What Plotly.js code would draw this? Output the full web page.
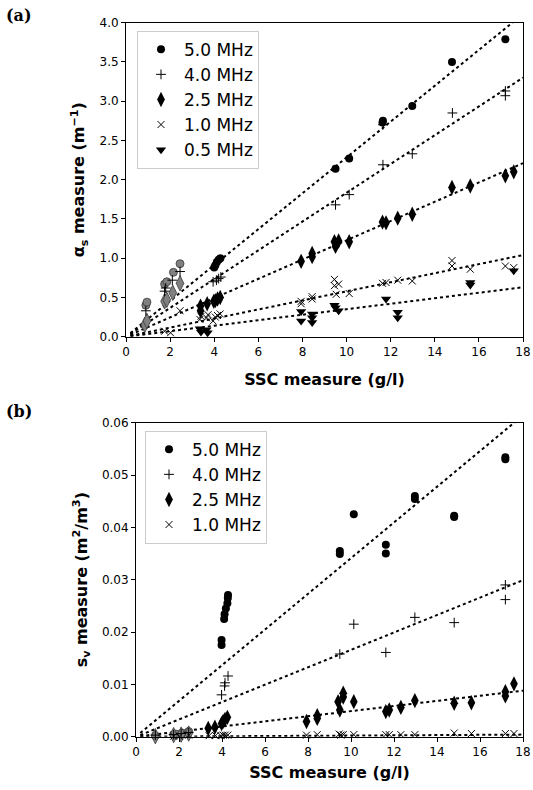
<!DOCTYPE html>
<html>
<head>
<meta charset="utf-8">
<script src="https://cdn.plot.ly/plotly-3.0.1.min.js"></script>
<style>html,body{margin:0;padding:0;background:#fff;}#chart{width:533px;height:790px;}</style>
</head>
<body>
<div id="chart"></div>
<script>
// ---------- Panel (a): attenuation alpha_s ----------
const a_x50 = [4.0, 4.05, 4.12, 4.2, 4.28, 9.5, 10.12, 11.63, 11.65, 12.98, 14.78, 17.2];
const a_y50 = [0.88, 0.91, 0.95, 0.98, 1.0, 2.14, 2.27, 2.73, 2.75, 2.94, 3.50, 3.79];
const a_x40 = [0.9, 1.75, 1.8, 2.1, 2.45, 3.95, 4.1, 4.2, 4.3, 9.5, 10.12, 11.65, 11.65, 12.98, 14.8, 17.2, 17.2];
const a_y40 = [0.33, 0.58, 0.62, 0.72, 0.83, 0.70, 0.72, 0.74, 0.76, 1.68, 1.81, 2.19, 2.70, 2.33, 2.85, 3.07, 3.13];
const a_x25 = [3.38, 3.38, 3.68, 3.98, 4.05, 4.15, 4.27, 7.94, 8.44, 8.44, 9.45, 9.5, 9.64, 10.12, 11.63, 11.79, 12.32, 12.98, 14.78, 15.61, 17.2, 17.58];
const a_y25 = [0.39, 0.33, 0.42, 0.45, 0.46, 0.48, 0.50, 0.96, 1.02, 1.06, 1.21, 1.15, 1.22, 1.21, 1.46, 1.45, 1.51, 1.56, 1.90, 1.92, 2.05, 2.10];
const a_x10 = [1.75, 2.02, 2.45, 3.35, 3.4, 3.65, 3.72, 3.95, 4.05, 4.15, 4.27, 7.94, 7.94, 8.44, 8.44, 9.45, 9.45, 9.53, 9.64, 10.12, 11.63, 11.79, 12.32, 12.98, 14.78, 14.78, 15.61, 17.2, 17.58];
const a_y10 = [0.07, 0.05, 0.33, 0.22, 0.26, 0.24, 0.28, 0.20, 0.25, 0.27, 0.29, 0.45, 0.42, 0.51, 0.48, 0.73, 0.65, 0.54, 0.67, 0.55, 0.68, 0.69, 0.72, 0.71, 0.97, 0.90, 0.86, 0.90, 0.88];
const a_x05 = [3.35, 3.4, 3.65, 3.7, 7.94, 7.94, 8.44, 8.44, 8.44, 9.45, 9.5, 9.64, 11.79, 12.32, 12.32, 15.61, 15.61, 17.58];
const a_y05 = [0.10, 0.06, 0.09, 0.05, 0.32, 0.20, 0.29, 0.24, 0.18, 0.40, 0.37, 0.33, 0.48, 0.31, 0.24, 0.69, 0.66, 0.84];
// grey (low-concentration) points
const a_xg50 = [0.9, 0.95, 1.75, 1.85, 2.15, 2.45];
const a_yg50 = [0.40, 0.44, 0.67, 0.70, 0.82, 0.93];
const a_xg25 = [0.85, 0.95, 1.75, 1.85, 2.12, 2.45];
const a_yg25 = [0.15, 0.20, 0.45, 0.47, 0.56, 0.68];
// fitted dotted lines (end points)
const a_fitX = [0.2, 18];
const a_fit50 = [0.046, 4.11];
const a_fit40 = [0.037, 3.30];
const a_fit25 = [0.025, 2.21];
const a_fit10 = [0.012, 1.04];
const a_fit05 = [0.007, 0.63];

// ---------- Panel (b): backscatter s_v ----------
const b_x50 = [3.98, 3.98, 4.1, 4.12, 4.18, 4.25, 4.27, 4.28, 9.48, 9.48, 10.13, 11.62, 11.62, 12.97, 12.97, 14.8, 14.8, 17.18, 17.18];
const b_y50 = [0.0175, 0.0185, 0.0225, 0.0234, 0.0245, 0.0255, 0.0265, 0.0271, 0.0355, 0.0349, 0.0425, 0.0367, 0.0350, 0.0460, 0.0454, 0.0422, 0.0420, 0.0534, 0.0530];
const b_x40 = [0.9, 1.75, 2.1, 2.45, 3.98, 4.12, 4.14, 4.28, 9.48, 10.13, 11.62, 12.97, 14.8, 17.18, 17.18];
const b_y40 = [0.0003, 0.0004, 0.0006, 0.0008, 0.0080, 0.0097, 0.0103, 0.0116, 0.0158, 0.0215, 0.0161, 0.0228, 0.0218, 0.0290, 0.0262];
const b_x25 = [3.36, 3.67, 3.98, 4.05, 4.14, 4.25, 7.93, 8.43, 8.43, 9.4, 9.48, 9.64, 9.64, 10.13, 11.62, 11.78, 12.32, 12.97, 14.8, 15.6, 17.18, 17.18, 17.58];
const b_y25 = [0.0016, 0.0018, 0.0025, 0.0029, 0.0033, 0.0037, 0.0029, 0.0035, 0.0040, 0.0067, 0.0051, 0.0083, 0.0076, 0.0067, 0.0048, 0.0051, 0.0056, 0.0069, 0.0064, 0.0065, 0.0086, 0.0078, 0.0101];
const b_x10 = [1.75, 2.02, 2.45, 3.4, 3.7, 3.95, 4.05, 4.15, 4.27, 7.93, 8.43, 9.45, 9.53, 9.64, 10.13, 11.62, 11.78, 12.32, 12.97, 14.8, 15.6, 17.18, 17.58];
const b_y10 = [0.0001, 0.0001, 0.0003, 0.0002, 0.0002, 0.0002, 0.0003, 0.0003, 0.0003, 0.0003, 0.0004, 0.0005, 0.0003, 0.0004, 0.0004, 0.0004, 0.0004, 0.0004, 0.0004, 0.0007, 0.0006, 0.0006, 0.0006];
const b_xg50 = [0.9, 1.75, 1.85, 2.15, 2.45];
const b_yg50 = [0.0002, 0.0004, 0.0005, 0.0007, 0.0010];
const b_xg25 = [0.9, 1.75, 2.1, 2.45];
const b_yg25 = [0.0001, 0.0003, 0.0004, 0.0006];
const b_fitX = [0.2, 18];
const b_fit50 = [0.0007, 0.0614];
const b_fit40 = [0.0003, 0.0299];
const b_fit25 = [0.0001, 0.0088];
const b_fit10 = [0.0, 0.0004];

const labels = ['5.0 MHz', '4.0 MHz', '2.5 MHz', '1.0 MHz', '0.5 MHz'];

const sym = {
  c: {symbol: 'circle', size: 8, color: '#000'},
  p: {symbol: 'cross-thin', size: 7, color: '#000', line: {color: '#000', width: 1}},
  d: {symbol: 'diamond-tall', size: 11, color: '#000'},
  x: {symbol: 'x-thin', size: 7, color: '#000', line: {color: '#000', width: 1}},
  t: {symbol: 'triangle-down', size: 9, color: '#000'}
};
function pts(x, y, m, name, xa, ya, leg, show) {
  return {x: x, y: y, type: 'scatter', mode: 'markers', name: name, marker: m,
    xaxis: xa, yaxis: ya, legend: leg, showlegend: show, legendgroup: leg + name,
    cliponaxis: false, hoverinfo: 'x+y'};
}
function grey(x, y, s, xa, ya) {
  return {x: x, y: y, type: 'scatter', mode: 'markers', showlegend: false,
    marker: {symbol: s, size: s === 'circle' ? 8 : 11, color: '#808080', line: {color: '#3a3a3a', width: 0.8}},
    xaxis: xa, yaxis: ya, cliponaxis: false};
}
function fit(x, y, xa, ya) {
  return {x: x, y: y, type: 'scatter', mode: 'lines', showlegend: false,
    line: {color: '#000', dash: 'dot', width: 2}, xaxis: xa, yaxis: ya, hoverinfo: 'skip'};
}

const traces = [
  fit(a_fitX, a_fit50, 'x', 'y'), fit(a_fitX, a_fit40, 'x', 'y'), fit(a_fitX, a_fit25, 'x', 'y'),
  fit(a_fitX, a_fit10, 'x', 'y'), fit(a_fitX, a_fit05, 'x', 'y'),
  grey(a_xg50, a_yg50, 'circle', 'x', 'y'), grey(a_xg25, a_yg25, 'diamond-tall', 'x', 'y'),
  pts(a_x50, a_y50, sym.c, labels[0], 'x', 'y', 'legend', true),
  pts(a_x40, a_y40, sym.p, labels[1], 'x', 'y', 'legend', true),
  pts(a_x25, a_y25, sym.d, labels[2], 'x', 'y', 'legend', true),
  pts(a_x10, a_y10, sym.x, labels[3], 'x', 'y', 'legend', true),
  pts(a_x05, a_y05, sym.t, labels[4], 'x', 'y', 'legend', true),

  fit(b_fitX, b_fit50, 'x2', 'y2'), fit(b_fitX, b_fit40, 'x2', 'y2'),
  fit(b_fitX, b_fit25, 'x2', 'y2'), fit(b_fitX, b_fit10, 'x2', 'y2'),
  grey(b_xg50, b_yg50, 'circle', 'x2', 'y2'), grey(b_xg25, b_yg25, 'diamond-tall', 'x2', 'y2'),
  pts(b_x50, b_y50, sym.c, labels[0], 'x2', 'y2', 'legend2', true),
  pts(b_x40, b_y40, sym.p, labels[1], 'x2', 'y2', 'legend2', true),
  pts(b_x25, b_y25, sym.d, labels[2], 'x2', 'y2', 'legend2', true),
  pts(b_x10, b_y10, sym.x, labels[3], 'x2', 'y2', 'legend2', true)
];

const tickFont = {family: 'DejaVu Sans', size: 12, color: '#000'};
const titleFont = {family: 'DejaVu Sans', size: 16, color: '#000', weight: 'bold'};
function axis(extra) {
  return Object.assign({
    showline: true, mirror: true, linecolor: '#000', linewidth: 1,
    ticks: 'outside', ticklen: 4, tickwidth: 1, tickcolor: '#000',
    showgrid: false, zeroline: false, tickfont: tickFont, fixedrange: true
  }, extra);
}
const legendStyle = {
  bgcolor: 'rgba(255,255,255,0.9)', bordercolor: '#cccccc', borderwidth: 1,
  font: {family: 'DejaVu Sans', size: 17, color: '#000'},
  xanchor: 'left', yanchor: 'top', tracegroupgap: 0, itemwidth: 36
};

const layout = {
  width: 533, height: 790,
  margin: {l: 0, r: 0, t: 0, b: 0},
  paper_bgcolor: '#fff', plot_bgcolor: '#fff',
  showlegend: true,
  xaxis: axis({domain: [126/533, 523/533], range: [0, 18], tickvals: [0,2,4,6,8,10,12,14,16,18],
    anchor: 'y', title: {text: 'SSC measure (g/l)', font: titleFont, standoff: 15}}),
  yaxis: axis({domain: [1 - 336.7/790, 1 - 22.7/790], range: [0, 4], tickvals: [0,0.5,1,1.5,2,2.5,3,3.5,4],
    tickformat: '.1f', anchor: 'x',
    title: {text: 'α<sub>s</sub> measure (m<sup>−1</sup>)', font: titleFont, standoff: 10}}),
  xaxis2: axis({domain: [136/533, 523/533], range: [0, 18], tickvals: [0,2,4,6,8,10,12,14,16,18],
    anchor: 'y2', title: {text: 'SSC measure (g/l)', font: titleFont, standoff: 8}}),
  yaxis2: axis({domain: [1 - 736.7/790, 1 - 422.7/790], range: [0, 0.06], tickvals: [0,0.01,0.02,0.03,0.04,0.05,0.06],
    tickformat: '.2f', anchor: 'x2',
    title: {text: 's<sub>v</sub> measure (m<sup>2</sup>/m<sup>3</sup>)', font: titleFont, standoff: 10}}),
  legend: Object.assign({x: 137/533, y: 1 - 30.7/790}, legendStyle),
  legend2: Object.assign({x: 145/533, y: 1 - 430.7/790}, legendStyle),
  annotations: [
    {text: '<b>(a)</b>', xref: 'paper', yref: 'paper', x: 4/533, y: 1 - 4/790, xanchor: 'left', yanchor: 'top',
     showarrow: false, font: {family: 'DejaVu Serif', size: 16, color: '#000'}},
    {text: '<b>(b)</b>', xref: 'paper', yref: 'paper', x: 4/533, y: 1 - 400/790, xanchor: 'left', yanchor: 'top',
     showarrow: false, font: {family: 'DejaVu Serif', size: 16, color: '#000'}}
  ]
};

Plotly.newPlot('chart', traces, layout, {displayModeBar: false, staticPlot: true});
</script>
</body>
</html>
